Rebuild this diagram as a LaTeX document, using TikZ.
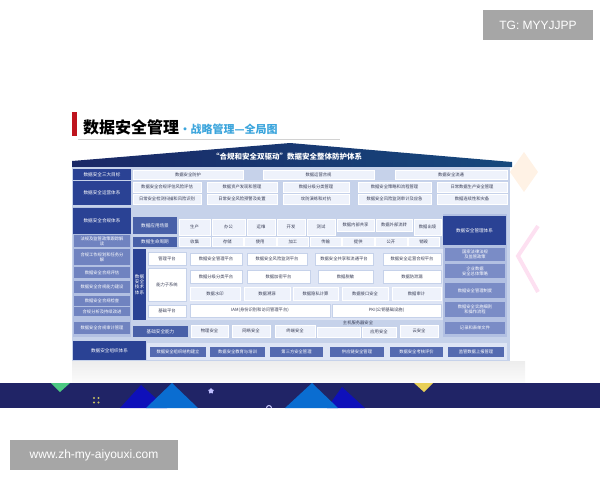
\documentclass[tikz,border=0pt]{standalone}
\usepackage{fontspec}
\newfontfamily\cjk{Noto Sans CJK SC}
\newfontfamily\wmfont{Liberation Sans}
\usetikzlibrary{shapes.geometric}

\definecolor{darkblue}{RGB}{42,66,148}
\definecolor{roofblue}{RGB}{26,40,102}
\definecolor{panelc}{RGB}{198,210,234}
\definecolor{cellc}{RGB}{238,242,251}
\definecolor{cellt}{RGB}{55,60,85}
\definecolor{subc}{RGB}{112,131,192}
\definecolor{rsubc}{RGB}{122,140,198}
\definecolor{scnc}{RGB}{72,96,168}
\definecolor{orgcc}{RGB}{84,106,176}
\definecolor{techbg}{RGB}{222,229,245}
\definecolor{sidebg}{RGB}{178,192,226}
\definecolor{bandc}{RGB}{32,36,102}
\definecolor{titlered}{RGB}{190,20,30}
\definecolor{titleblue}{RGB}{60,165,220}
\definecolor{wmgray}{RGB}{166,166,166}

\begin{document}
\begin{tikzpicture}[
  x=1pt, y=-1pt,
  font={\cjk\fontsize{4.3}{5}\selectfont},
  sz/.style 2 args={minimum width=#1pt, minimum height=#2pt},
  lbl/.style={anchor=north west, inner sep=0pt, outer sep=0pt, fill=darkblue,
    text=white, align=center, font={\cjk\fontsize{4.6}{5.4}\selectfont}},
  cell/.style={anchor=north west, inner sep=0pt, outer sep=0pt, fill=cellc,
    draw=white, line width=0.3pt, text=cellt, align=center},
  cellw/.style={cell, fill=white, draw=panelc},
  sub/.style={lbl, fill=subc, font={\cjk\fontsize{4.3}{5}\selectfont}},
  rsub/.style={lbl, fill=rsubc, font={\cjk\fontsize{4.3}{5}\selectfont}},
  scn/.style={lbl, fill=scnc},
  orgbox/.style={lbl, fill=orgcc, font={\cjk\fontsize{4.3}{5}\selectfont}},
  wm/.style={fill=wmgray, text=white, inner sep=0pt, font={\wmfont\fontsize{12}{12}\selectfont}}
]
\useasboundingbox (0,0) rectangle (600,480);

% title
\fill[titlered] (72,112) rectangle (77,136);
\node[anchor=base west, inner sep=0pt, font={\cjk\bfseries\fontsize{16}{16}\selectfont}] (title) at (83,133) {数据安全管理};
\node[anchor=base west, inner sep=0pt, text=titleblue, font={\cjk\bfseries\fontsize{11}{11}\selectfont}] (subtitle) at (title.base east) {•战略管理—全局图};
\draw[gray!35, line width=0.6pt] (78,139) -- (340,139);

% background marks
\fill[orange!10] (524,152) -- (538,172) -- (524,192) -- (510,172) -- cycle;
\draw[magenta!12, line width=4pt] (538,226) -- (518,256) -- (538,292);

% roof
\shade[left color=roofblue, right color=roofblue!85!cyan] (72,167) -- (72,161) -- (290,143) -- (512,162) -- (512,167) -- cycle;
\node[text=white, font={\cjk\bfseries\fontsize{7.5}{8}\selectfont}] (roof) at (287,157) {“合规和安全双驱动”数据安全整体防护体系};

% panel
\fill[panelc] (72,167) rectangle (510,361);

% goals
\node[lbl,sz={58}{11}] (goal) at (73,169) {数据安全三大目标};
  \node[cell,sz={110}{9}] (goal1) at (133,170) {数据安全防护};
  \node[cell,sz={111}{9}] (goal2) at (263,170) {数据运营合规};
  \node[cell,sz={112}{9}] (goal3) at (395,170) {数据安全流通};

% operation
\node[lbl,sz={58}{24}] (ops) at (73,181) {数据安全运营体系};
  \node[cell,sz={68}{10}] (ops1) at (133,182) {数据安全合规评估风险评估};
  \node[cell,sz={70}{10}] (ops2) at (207,182) {数据资产发现和管理};
  \node[cell,sz={66}{10}] (ops3) at (283,182) {数据分级分类管理};
  \node[cell,sz={73}{10}] (ops4) at (358,182) {数据安全策略和流程管理};
  \node[cell,sz={70}{10}] (ops5) at (437,182) {日常数据生产安全管理};
  \node[cell,sz={68}{10}] (ops6) at (133,194) {日常安全检测扫描和风险识别};
  \node[cell,sz={70}{10}] (ops7) at (207,194) {日常安全风险预警及处置};
  \node[cell,sz={66}{10}] (ops8) at (283,194) {攻防演练和对抗};
  \node[cell,sz={73}{10}] (ops9) at (358,194) {数据安全风险监测审计及应急};
  \node[cell,sz={70}{10}] (ops10) at (437,194) {数据连续性和灾备};

% compliance
\fill[sidebg] (73,207) rectangle (131,337);
\node[lbl,sz={58}{26}] (comp) at (73,208) {数据安全合规体系};
  \node[sub,sz={56}{12}] (comp1) at (74,235) {法规及监管政策跟踪解\\读};
  \node[sub,sz={56}{16}] (comp2) at (74,249) {合规工作规划和任务分\\解};
  \node[sub,sz={56}{11}] (comp3) at (74,267) {数据安全合规评估};
  \node[sub,sz={56}{12}] (comp4) at (74,281) {数据安全合规能力建设};
  \node[sub,sz={56}{10}] (comp5) at (74,296) {数据安全合规检查};
  \node[sub,sz={56}{9}] (comp6) at (74,307) {合规分析及持续改进};
  \node[sub,sz={56}{12}] (comp7) at (74,322) {数据安全合规审计管理};

% scenes
\node[scn,sz={44}{17}] (scene) at (133,217) {数据应用场景};
  \node[cell,sz={31}{16}] (scene1) at (179,219) {生产};
  \node[cell,sz={33}{16}] (scene2) at (212,219) {办公};
  \node[cell,sz={28}{16}] (scene3) at (247,219) {运维};
  \node[cell,sz={28}{16}] (scene4) at (277,219) {开发};
  \node[cell,sz={28}{16}] (scene5) at (307,219) {测试};
  \node[cell,sz={37}{12}] (scene6) at (337,219) {数据内部共享};
  \node[cell,sz={36}{12}] (scene7) at (376,219) {数据外部流转};
  \node[cell,sz={27}{16}] (scene8) at (414,219) {数据出境};

% lifecycle
\node[scn,sz={44}{10}] (life) at (133,237) {数据生命周期};
  \node[cell,sz={31.5}{9}] (life1) at (179,237) {收集};
  \node[cell,sz={31.5}{9}] (life2) at (211.7,237) {存储};
  \node[cell,sz={31.5}{9}] (life3) at (244.4,237) {使用};
  \node[cell,sz={31.5}{9}] (life4) at (277.1,237) {加工};
  \node[cell,sz={31.5}{9}] (life5) at (309.8,237) {传输};
  \node[cell,sz={31.5}{9}] (life6) at (342.5,237) {提供};
  \node[cell,sz={31.5}{9}] (life7) at (375.2,237) {公开};
  \node[cell,sz={31.5}{9}] (life8) at (407.9,237) {销毁};

% technology
\fill[techbg] (133,249) rectangle (443,320);
\node[lbl,sz={13}{71}] (tech) at (133,249) {数据\\安全\\技术\\体系};
\node[cellw,sz={38}{13}] (mgmt) at (148,252) {管理平台};
  \node[cellw,sz={52}{12}] (mgmt1) at (190,253) {数据安全管理平台};
  \node[cellw,sz={60}{12}] (mgmt2) at (247,253) {数据安全风险监测平台};
  \node[cellw,sz={58}{12}] (mgmt3) at (315,253) {数据安全共享和流通平台};
  \node[cellw,sz={58}{12}] (mgmt4) at (383,253) {数据安全运营合规平台};
\node[cellw,sz={38}{33}] (abil) at (148,268) {能力子系统};
  \node[cellw,sz={52}{13}] (abil1) at (190,270) {数据分级分类平台};
  \node[cellw,sz={63}{13}] (abil2) at (247,270) {数据加密平台};
  \node[cellw,sz={55}{13}] (abil3) at (318,270) {数据脱敏};
  \node[cellw,sz={58}{13}] (abil4) at (383,270) {数据防泄漏};
  \node[cell,sz={50}{13}] (abil5) at (190,287) {数据水印};
  \node[cell,sz={46}{13}] (abil6) at (244,287) {数据溯源};
  \node[cell,sz={45}{13}] (abil7) at (293,287) {数据隐私计算};
  \node[cell,sz={46}{13}] (abil8) at (342,287) {数据接口安全};
  \node[cell,sz={49}{13}] (abil9) at (392,287) {数据审计};
\node[cellw,sz={38}{12}] (base) at (148,305) {基础平台};
  \node[cellw,sz={140}{13}] (iam) at (190,304) {IAM(身份识别和访问管理平台)};
  \node[cellw,sz={109}{13}] (pki) at (332,304) {PKI(公钥基础设施)};

% basic security
\node[scn,sz={55}{11}] (basic) at (133,326) {基础安全能力};
  \node[cell,sz={37}{12}] (basic1) at (191,325) {物理安全};
  \node[cell,sz={38}{12}] (basic2) at (232,325) {网络安全};
  \node[cell,sz={40}{12}] (basic3) at (275,325) {终端安全};
  \node[cell,sz={43}{10}] (basic4) at (317,327) {};
  \node[cell,sz={34}{10}] (basic5) at (362,327) {应用安全};
  \node[cell,sz={38}{12}] (basic6) at (400,325) {云安全};
  \node[inner sep=0pt, text=cellt] (host) at (358,323) {主机服务器安全};

% management
\fill[sidebg] (443,214) rectangle (507,337);
\node[lbl,sz={63}{29}] (mgt) at (443,216) {数据安全管理体系};
  \node[rsub,sz={60}{13}] (mgt1) at (445,248) {国家法律法规\\及监管政策};
  \node[rsub,sz={60}{14}] (mgt2) at (445,264) {企业数据\\安全总体策略};
  \node[rsub,sz={60}{15}] (mgt3) at (445,283) {数据安全管理制度};
  \node[rsub,sz={60}{15}] (mgt4) at (445,302) {数据安全实施细则\\和操作流程};
  \node[rsub,sz={60}{12}] (mgt5) at (445,322) {记录和表单文件};

% organisation
\fill[techbg] (147,343) rectangle (507,360);
\node[lbl,sz={73}{19}] (org) at (73,341) {数据安全组织体系};
  \node[orgbox,sz={56}{10}] (org1) at (150,347) {数据安全组织结构建立};
  \node[orgbox,sz={55}{10}] (org2) at (210,347) {数据安全教育与培训};
  \node[orgbox,sz={53}{10}] (org3) at (270,347) {第三方安全管理};
  \node[orgbox,sz={54}{10}] (org4) at (330,347) {供应链安全管理};
  \node[orgbox,sz={53}{10}] (org5) at (390,347) {数据安全考核评价};
  \node[orgbox,sz={56}{10}] (org6) at (448,347) {监管数据上报管理};

% footer band
\shade[top color=gray!14, bottom color=gray!3] (72,361) rectangle (525,383);
\fill[bandc] (0,383) rectangle (600,408);
\fill[blue!55!bandc] (120,408) -- (141,385) -- (167,408) -- cycle;
\fill[blue!45!cyan!70!bandc] (146,408) -- (172,383) -- (198,408) -- cycle;
\fill[blue!55!bandc] (327,408) -- (342,387) -- (365,408) -- cycle;
\fill[blue!45!cyan!70!bandc] (285,408) -- (312,383) -- (338,408) -- cycle;
\fill[teal!60!green!70] (51,383) -- (70,383) -- (60,392) -- cycle;
\fill[yellow!55!brown!80] (414,383) -- (433,383) -- (424,392) -- cycle;
\node[star, star points=5, fill=blue!25!white, inner sep=0pt, minimum size=6pt] (star) at (211,391) {};
\fill[yellow!50!gray] (94,398) circle (1.2) (98.5,398) circle (1.2) (94,402.5) circle (1.2) (98.5,402.5) circle (1.2);
\draw[blue!20!white, line width=1pt] (266.5,408) arc[start angle=180, end angle=360, radius=2.5];

% watermarks
\node[wm, minimum width=110pt, minimum height=30pt] (tg) at (538,25) {TG: MYYJJPP};
\node[wm, minimum width=168pt, minimum height=30pt] (site) at (94,455) {www.zh-my-aiyouxi.com};
\end{tikzpicture}
\end{document}
